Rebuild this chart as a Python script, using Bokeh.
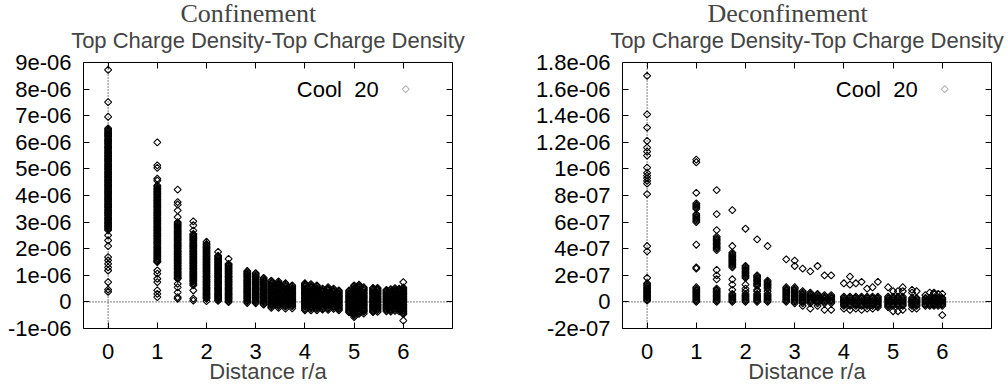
from bokeh.plotting import figure
from bokeh.layouts import row
from bokeh.models import (Title, Span, Label, PolyAnnotation, LinearAxis,
                          FixedTicker, Range1d, ColumnDataSource)
from bokeh.embed import file_html
from bokeh.resources import INLINE

# ---------------- data ----------------
# lattice distances r/a (sqrt of 0,1,2,3,4,5,6,8,9,...,36)
distances = [0, 1, 1.414, 1.732, 2, 2.236, 2.449, 2.828, 3, 3.162, 3.317, 3.464,
             3.606, 3.742, 4, 4.123, 4.243, 4.359, 4.472, 4.583, 4.690, 4.899, 5,
             5.099, 5.196, 5.385, 5.477, 5.657, 5.745, 5.831, 5.916, 6]

# Confinement correlator values, in units of 1e-8 (one list per distance)
conf_scale = 1e-8
conf_values = [
    [872, 751, 696, 652, 647, 643, 638, 634, 629, 625, 621, 616, 611, 607, 603, 598, 594, 589,
     584, 580, 576, 571, 567, 562, 558, 553, 549, 545, 540, 536, 531, 527, 522, 518, 513, 509,
     504, 500, 496, 491, 487, 482, 478, 473, 469, 465, 460, 456, 451, 447, 442, 438, 434, 429,
     425, 420, 416, 411, 407, 402, 398, 394, 389, 385, 380, 376, 371, 367, 363, 358, 354, 349,
     345, 340, 336, 332, 327, 323, 318, 314, 309, 305, 300, 296, 292, 287, 283, 278, 274, 270,
     250, 231, 210, 168, 156, 143, 130, 118, 74, 46, 38],
    [600, 513, 504, 463, 456, 438, 434, 429, 425, 421, 416, 412, 407, 403, 399, 394, 390, 385,
     381, 377, 372, 368, 363, 359, 355, 350, 346, 341, 337, 333, 328, 324, 319, 315, 311, 306,
     302, 297, 293, 289, 284, 280, 275, 271, 267, 262, 258, 253, 249, 245, 240, 236, 231, 227,
     223, 218, 214, 209, 205, 201, 196, 192, 187, 183, 179, 174, 170, 165, 161, 156, 152, 150,
     118, 106, 87, 74, 43, 30, 18],
    [422, 375, 366, 344, 319, 300, 296, 291, 287, 282, 278, 274, 269, 265, 260, 256, 252, 247,
     243, 238, 234, 230, 225, 221, 216, 212, 208, 203, 199, 194, 190, 186, 181, 177, 172, 168,
     164, 159, 155, 150, 146, 142, 137, 133, 128, 124, 120, 115, 111, 106, 102, 98, 93, 89, 87,
     68, 55, 36, 18, 12],
    [303, 288, 268, 256, 252, 247, 243, 238, 234, 230, 225, 221, 216, 212, 208, 203, 199, 194,
     190, 186, 181, 177, 172, 168, 164, 159, 155, 150, 146, 142, 137, 133, 128, 124, 120, 115,
     111, 106, 102, 98, 93, 89, 84, 80, 76, 71, 67, 62, 43, 12, 5],
    [226, 218, 214, 209, 205, 201, 196, 192, 187, 183, 179, 174, 170, 165, 161, 157, 152, 148,
     143, 139, 135, 130, 126, 121, 117, 113, 108, 104, 99, 95, 91, 86, 82, 77, 73, 69, 64, 60,
     55, 51, 47, 42, 38, 33, 29, 25, 20, 16, 12, 3],
    [188, 174, 170, 165, 161, 157, 152, 148, 143, 139, 135, 130, 126, 121, 117, 113, 108, 104,
     99, 95, 91, 86, 82, 77, 73, 69, 64, 60, 55, 51, 47, 42, 38, 33, 29, 25, 20, 16, 12, 8, 4],
    [162, 143, 139, 135, 130, 126, 121, 117, 113, 108, 104, 99, 95, 91, 86, 82, 77, 73, 69, 64,
     60, 55, 51, 47, 42, 38, 33, 29, 25, 20, 16, 12, 8, 3, -1],
    [116, 112, 107, 103, 99, 94, 90, 85, 81, 77, 72, 68, 63, 59, 55, 50, 46, 41, 37, 33, 28,
     24, 19, 15, 11, 6, 2, -4],
    [108, 104, 99, 95, 91, 86, 82, 77, 73, 69, 64, 60, 55, 51, 47, 42, 38, 33, 29, 25, 20, 16,
     11, 7, 3, -2, -5],
    [90, 86, 81, 77, 72, 68, 64, 59, 55, 50, 46, 42, 37, 33, 28, 24, 20, 15, 11, 6, 2, -2, -7,
     -10],
    [80, 76, 71, 67, 62, 58, 54, 49, 45, 40, 36, 32, 27, 23, 18, 14, 10, 5, 1, -4, -8, -12,
     -17, -22],
    [77, 72, 68, 64, 59, 55, 50, 46, 42, 37, 33, 28, 24, 20, 15, 11, 6, 2, -2, -7, -11, -16,
     -22],
    [70, 66, 61, 57, 52, 48, 44, 39, 35, 30, 26, 22, 17, 13, 8, 4, 0, -5, -9, -14, -18, -25],
    [62, 58, 53, 49, 45, 40, 36, 31, 27, 23, 18, 14, 9, 5, 1, -4, -8, -13, -17, -24],
    [70, 66, 61, 57, 52, 48, 44, 39, 35, 30, 26, 22, 17, 13, 8, 4, 0, -5, -9, -14, -18, -23,
     -27, -32],
    [67, 63, 58, 54, 49, 45, 41, 36, 32, 27, 23, 19, 14, 10, 5, 1, -3, -8, -12, -17, -21, -26,
     -32],
    [62, 58, 53, 49, 45, 40, 36, 31, 27, 23, 18, 14, 9, 5, 1, -4, -8, -13, -17, -22, -26, -32],
    [50, 46, 41, 37, 33, 28, 24, 19, 15, 11, 6, 2, -3, -7, -11, -16, -20, -25, -29],
    [55, 51, 46, 42, 37, 33, 29, 24, 20, 15, 11, 7, 2, -2, -7, -11, -15, -20, -24, -30],
    [50, 46, 41, 37, 33, 28, 24, 19, 15, 11, 6, 2, -3, -7, -11, -16, -20, -26],
    [43, 39, 34, 30, 25, 21, 17, 12, 8, 3, -1, -5, -10, -14, -19, -23, -27, -32],
    [43, 39, 34, 30, 25, 21, 17, 12, 8, 3, -1, -5, -10, -14, -19, -23, -27, -32, -36, -39],
    [62, 58, 53, 49, 45, 40, 36, 31, 27, 23, 18, 14, 9, 5, 1, -4, -8, -13, -17, -22, -26, -30,
     -35, -39, -44, -48, -52, -57],
    [65, 61, 56, 52, 47, 43, 39, 34, 30, 25, 21, 17, 12, 8, 3, -1, -5, -10, -14, -19, -23, -27,
     -32, -36, -41, -45],
    [55, 51, 46, 42, 37, 33, 29, 24, 20, 15, 11, 7, 2, -2, -7, -11, -15, -20, -24, -29, -33,
     -37, -44],
    [53, 49, 44, 40, 35, 31, 27, 22, 18, 13, 9, 5, 0, -4, -9, -13, -17, -22, -26, -31, -35, -38],
    [53, 49, 44, 40, 35, 31, 27, 22, 18, 13, 9, 5, 0, -4, -9, -13, -17, -22, -26, -31, -37],
    [45, 41, 36, 32, 27, 23, 19, 14, 10, 5, 1, -3, -8, -12, -17, -21, -25, -30, -35],
    [48, 44, 39, 35, 30, 26, 22, 17, 13, 8, 4, 0, -5, -9, -14, -18, -22, -27, -31, -36],
    [52, 48, 43, 39, 34, 30, 26, 21, 17, 12, 8, 4, -1, -5, -10, -14, -18, -23, -27, -34],
    [50, 46, 41, 37, 32, 28, 24, 19, 15, 10, 6, 2, -3, -7, -12, -16, -20, -25, -29, -35],
    [74, 54, 50, 45, 41, 36, 32, 28, 23, 19, 14, 10, 6, 1, -3, -8, -12, -16, -21, -25, -30,
     -34, -38, -43, -46, -70],
]

# Deconfinement correlator values, in units of 1e-8 (one list per distance)
deconf_scale = 1e-8
deconf_values = [
    [170, 141, 131, 121, 116, 113, 110, 101, 97, 95, 93, 91, 89, 81, 42, 38, 18, 14, 13, 12,
     11, 10, 9, 8, 7, 6, 5, 4, 3, 2, 1],
    [107, 105, 82, 74, 73, 72, 71, 70, 66, 65, 64, 63, 62, 61, 60, 43, 26, 25, 11, 10, 9, 8,
     7, 6, 5, 4, 3, 2, 1, 0],
    [84, 66, 54, 49, 48, 47, 46, 45, 44, 43, 42, 41, 40, 39, 24, 20, 17, 10, 9, 8, 7, 6, 5, 4,
     3, 2, 1, 0],
    [69, 42, 37, 36, 35, 34, 33, 32, 31, 30, 29, 28, 27, 26, 17, 13, 9, 6, 5, 4, 3, 2, 1, 0],
    [55, 27, 26, 25, 24, 23, 22, 21, 20, 19, 18, 13, 10, 8, 6, 5, 4, 3, 2, 1, 0],
    [47, 20, 19, 18, 17, 16, 15, 14, 13, 12, 9, 8, 6, 5, 4, 3, 2, 1, 0],
    [42, 16, 15, 14, 13, 12, 11, 10, 8, 6, 5, 4, 3, 2, 1, 0],
    [32, 11, 10, 9, 8, 7, 6, 5, 4, 3, 2, 1, 0],
    [31, 27, 11, 10, 9, 8, 7, 6, 5, 4, 3, 2, 1, 0, -1],
    [25, 8, 7, 6, 5, 4, 3, 2, 1, 0, -1, -3],
    [23, 7, 6, 5, 4, 3, 2, 1, 0, -1, -5],
    [27, 6, 5, 4, 3, 2, 1, 0, -1, -3],
    [20, 5, 4, 3, 2, 1, 0, -1, -6],
    [20, 5, 4, 3, 2, 1, 0, -1, -6],
    [14, 4, 3, 2, 1, 0, -1, -2, -3, -5],
    [19, 13, 4, 3, 2, 1, 0, -1, -2, -3, -6],
    [14, 4, 3, 2, 1, 0, -1, -2, -3, -5],
    [15, 4, 3, 2, 1, 0, -1, -2, -3, -6],
    [10, 4, 3, 2, 1, 0, -1, -2, -3, -5],
    [11, 4, 3, 2, 1, 0, -1, -2, -3, -5],
    [15, 4, 3, 2, 1, 0, -1, -2, -3, -4],
    [11, 4, 3, 2, 1, 0, -1, -2, -3, -4],
    [8, 4, 3, 2, 1, 0, -1, -2, -3, -7],
    [8, 4, 3, 2, 1, 0, -1, -2, -3, -7],
    [11, 8, 4, 3, 2, 1, 0, -1, -2, -3, -6],
    [9, 7, 3, 2, 1, 0, -1, -2, -3, -5],
    [8, 3, 2, 1, 0, -1, -2, -3, -5],
    [5, 3, 2, 1, 0, -1, -2, -3],
    [7, 3, 2, 1, 0, -1, -2, -3],
    [7, 6, 3, 2, 1, 0, -1, -2, -3],
    [6, 3, 2, 1, 0, -1, -2, -3],
    [6, 3, 2, 1, 0, -1, -2, -3, -10],
]

x_ticks = [0, 1, 2, 3, 4, 5, 6]
conf_yticks = [-1e-06, 0, 1e-06, 2e-06, 3e-06, 4e-06, 5e-06, 6e-06, 7e-06, 8e-06, 9e-06]
conf_ylabels = ["-1e-06", "0", "1e-06", "2e-06", "3e-06", "4e-06", "5e-06", "6e-06",
                "7e-06", "8e-06", "9e-06"]
deconf_yticks = [-2e-07, 0, 2e-07, 4e-07, 6e-07, 8e-07, 1e-06, 1.2e-06, 1.4e-06, 1.6e-06, 1.8e-06]
deconf_ylabels = ["-2e-07", "0", "2e-07", "4e-07", "6e-07", "8e-07", "1e-06", "1.2e-06",
                  "1.4e-06", "1.6e-06", "1.8e-06"]

series_name = "Cool\u00a0 20"
subtitle = "Top Charge Density-Top Charge Density"
x_label = "Distance r/a"

SANS = "Liberation Sans"
SERIF = "Liberation Serif"
FS = "22px"
FRAME_W, FRAME_H = 369, 266
X_LO, X_HI = -0.5, 7


def make_panel(main_title, title_offset, values, scale, yticks, ylabels, key_xy,
               width, border_left, border_right):
    xs, ys = [], []
    for r, vals in zip(distances, values):
        for v in vals:
            xs.append(r)
            ys.append(v * scale)
    src = ColumnDataSource(dict(x=xs, y=ys))

    y_lo, y_hi = yticks[0], yticks[-1]
    p = figure(width=width, height=389, output_backend="svg", toolbar_location=None,
               x_range=Range1d(X_LO, X_HI), y_range=Range1d(y_lo, y_hi),
               min_border_left=border_left, min_border_right=border_right,
               min_border_top=62, min_border_bottom=61,
               background_fill_color="white", border_fill_color="white")
    p.grid.visible = False
    p.outline_line_color = "black"
    p.outline_line_width = 1

    px_per_x = FRAME_W / (X_HI - X_LO)
    px_per_y = FRAME_H / (y_hi - y_lo)

    # main title (outermost)
    p.title.text = main_title
    p.title.text_font = SERIF
    p.title.text_font_size = "26px"
    p.title.text_font_style = "normal"
    p.title.align = "left"
    p.title.offset = title_offset
    p.title.standoff = -22

    # bottom axis
    xa = p.xaxis[0]
    xa.ticker = FixedTicker(ticks=x_ticks)
    xa.axis_label = x_label
    xa.axis_label_text_font = SANS
    xa.axis_label_text_font_size = FS
    xa.axis_label_text_font_style = "normal"
    xa.axis_label_standoff = -3
    # left axis
    ya = p.yaxis[0]
    ya.ticker = FixedTicker(ticks=yticks)
    ya.major_label_overrides = {t: s for t, s in zip(yticks, ylabels)}
    for ax in (xa, ya):
        ax.major_label_text_font = SANS
        ax.major_label_text_font_size = FS
        ax.major_label_text_color = "black"
        ax.major_tick_in = 6
        ax.major_tick_out = 0
        ax.minor_tick_line_color = None
        ax.axis_line_color = None
        ax.major_tick_line_color = "black"
    ya.major_label_standoff = 12
    xa.major_label_standoff = 15

    # mirrored tick marks on top and right
    top = LinearAxis(ticker=FixedTicker(ticks=x_ticks),
                     major_label_overrides={t: "" for t in x_ticks})
    right = LinearAxis(ticker=FixedTicker(ticks=yticks),
                       major_label_overrides={t: "" for t in yticks})
    for ax in (top, right):
        ax.major_label_text_font_size = "1px"
        ax.major_label_standoff = 0
        ax.major_tick_in = 6
        ax.major_tick_out = 0
        ax.minor_tick_line_color = None
        ax.axis_line_color = None
        ax.major_tick_line_color = "black"
    p.add_layout(top, "above")
    p.add_layout(right, "right")

    p.add_layout(Title(text=subtitle, align="center", text_font=SANS,
                       text_font_size=FS, text_font_style="normal", standoff=19), "above")

    # zero axes (dotted)
    p.add_layout(Span(location=0, dimension="width", line_color="black",
                      line_dash="1 2", line_width=1, level="underlay"))
    p.add_layout(Span(location=0, dimension="height", line_color="black",
                      line_dash="1 2", line_width=1, level="underlay"))

    p.scatter("x", "y", source=src, marker="square", angle=0.785398, size=5,
              line_color="black", line_width=1.1, fill_alpha=0)

    # key: text followed by a diamond sample, to the right of the text
    kx, ky = key_xy
    p.add_layout(Label(x=kx, y=ky, text=series_name, text_font=SANS,
                       text_font_size=FS, text_align="right", text_baseline="middle",
                       text_color="black"))
    gap_px, half_px = 27, 3.5
    cx = kx + gap_px / px_per_x
    dx = half_px / px_per_x
    dy = half_px / px_per_y
    p.add_layout(PolyAnnotation(xs=[cx, cx + dx, cx, cx - dx], ys=[ky + dy, ky, ky - dy, ky],
                                fill_alpha=0, line_color="black", line_width=1.1))
    return p


p1 = make_panel("Confinement", 97, conf_values, conf_scale, conf_yticks, conf_ylabels,
                (5.50, 8e-06), 500, 83, 48)
p2 = make_panel("Deconfinement", 85, deconf_values, deconf_scale, deconf_yticks,
                deconf_ylabels, (5.50, 1.6e-06), 508, 122, 17)

layout = row(p1, p2)
open("out.html", "w").write(file_html(layout, INLINE))
